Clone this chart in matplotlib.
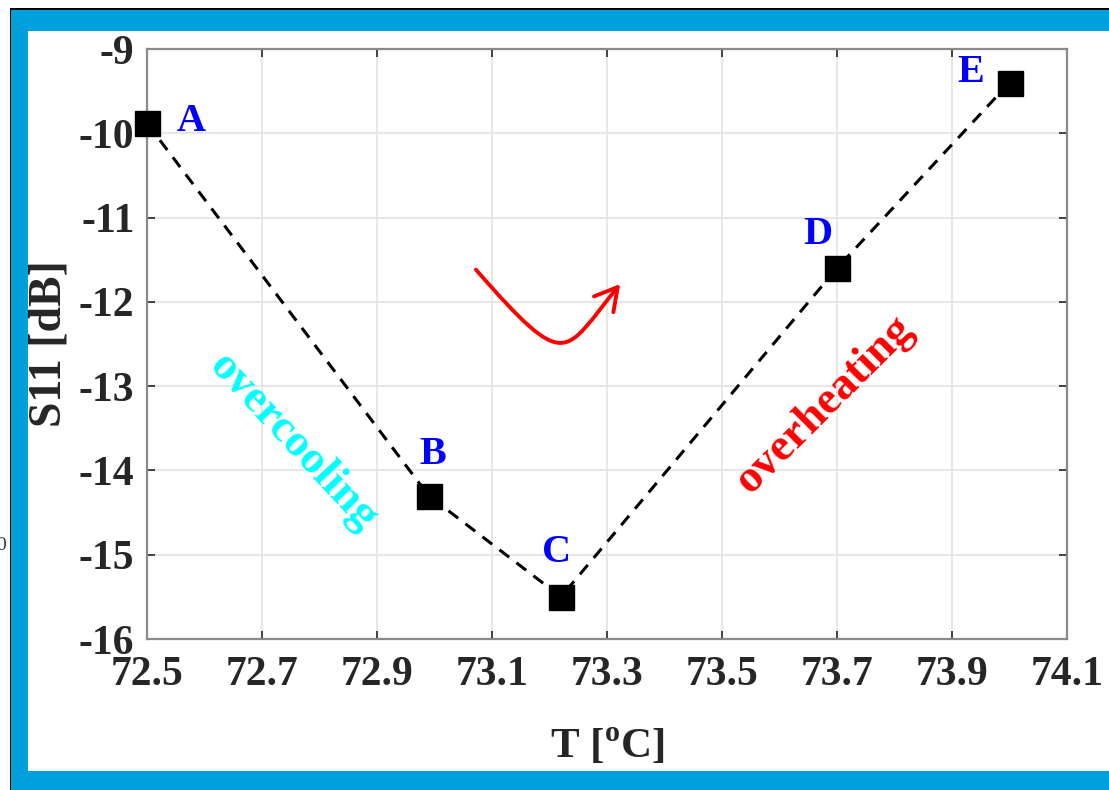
import matplotlib
matplotlib.use('Agg')
import matplotlib.pyplot as plt
from matplotlib.patches import Rectangle, FancyArrowPatch
from matplotlib.path import Path

# data
temps = [72.50, 72.99, 73.22, 73.70, 74.00]
s11 = [-9.88, -14.30, -15.50, -11.60, -9.40]
point_names = ['A', 'B', 'C', 'D', 'E']
name_offsets = [(32, 1), (3, 30), (-3, 32), (-14, 24), (-28, 7)]

x_ticks = [72.5, 72.7, 72.9, 73.1, 73.3, 73.5, 73.7, 73.9, 74.1]
y_ticks = [-16, -15, -14, -13, -12, -11, -10, -9]

# red curved arrow (cubic bezier: start, two control points, tip)
arrow_x = [73.072, 73.232, 73.224, 73.323]
arrow_y = [-11.617, -12.867, -12.618, -11.788]

plt.rcParams['font.family'] = ['Liberation Serif', 'DejaVu Serif']
plt.rcParams['mathtext.fontset'] = 'custom'
plt.rcParams['mathtext.rm'] = 'Liberation Serif'
plt.rcParams['mathtext.bf'] = 'Liberation Serif:bold'

W, H = 1109, 790
fig = plt.figure(figsize=(W / 100, H / 100), dpi=100)
fig.patch.set_facecolor('white')


def px_rect(x0, y0, x1, y1, color):
    # rectangle given in pixel coords (origin top-left)
    r = Rectangle((x0 / W, 1 - y1 / H), (x1 - x0) / W, (y1 - y0) / H,
                  transform=fig.transFigure, facecolor=color,
                  edgecolor='none', zorder=10)
    fig.add_artist(r)


ax = fig.add_axes([147 / W, 1 - 639 / H, 920 / W, 590 / H])

ax.plot(temps, s11, color='black', linestyle=(0, (4, 3)), linewidth=2.2,
        marker='s', markersize=18, markerfacecolor='black',
        markeredgecolor='black', zorder=3, clip_on=False)

for name, x, y, off in zip(point_names, temps, s11, name_offsets):
    ax.annotate(name, (x, y), xytext=off, textcoords='offset points',
                ha='center', va='center', fontsize=29, fontweight='bold',
                color='blue')

ax.text(72.754, -13.67, 'overcooling', color='cyan', fontsize=33,
        fontweight='bold', rotation=-47, ha='center', va='center',
        rotation_mode='anchor')
ax.text(73.679, -13.22, 'overheating', color='red', fontsize=33,
        fontweight='bold', rotation=45, ha='center', va='center',
        rotation_mode='anchor')

curve = Path(list(zip(arrow_x, arrow_y)),
             [Path.MOVETO, Path.CURVE4, Path.CURVE4, Path.CURVE4])
arrow = FancyArrowPatch(path=curve,
                        arrowstyle='->,head_length=0.8,head_width=0.45',
                        mutation_scale=20, color='red', linewidth=2.8)
ax.add_patch(arrow)

ax.set_xlim(72.5, 74.1)
ax.set_ylim(-16, -9)
ax.set_xticks(x_ticks)
ax.set_yticks(y_ticks)
ax.set_xticklabels([f'{t:.1f}' for t in x_ticks])
ax.set_yticklabels([str(t) for t in y_ticks])
ax.grid(True, color='#e3e3e3', linewidth=1.2)
ax.set_axisbelow(True)

for side in ax.spines.values():
    side.set_color('#8a8a8a')
    side.set_linewidth(1.6)
ax.tick_params(direction='in', length=6, width=1.2, color='#262626',
               top=True, right=True, labelsize=30, labelcolor='#262626')
ax.tick_params(axis='x', pad=12)
ax.tick_params(axis='y', pad=9)
for lbl in ax.get_xticklabels() + ax.get_yticklabels():
    lbl.set_fontweight('bold')

ax.set_xlabel(r'T [$^{\mathbf{o}}$C]', fontsize=31, fontweight='bold',
              color='#262626', labelpad=24)
ax.set_ylabel('S11 [dB]', fontsize=33, fontweight='bold', color='#262626',
              labelpad=6)

# screenshot frame
px_rect(10, 8, W, 10, 'black')
px_rect(10, 8, 11, H, 'black')
px_rect(11, 10, W, 31, '#00a0dd')
px_rect(11, 10, 28, H, '#00a0dd')
px_rect(11, 771, W, H, '#00a0dd')
fig.text(-4 / W, 1 - 546 / H, '0', fontsize=14, color='#333333',
         va='center', ha='left')

fig.savefig('out.png', dpi=100)
